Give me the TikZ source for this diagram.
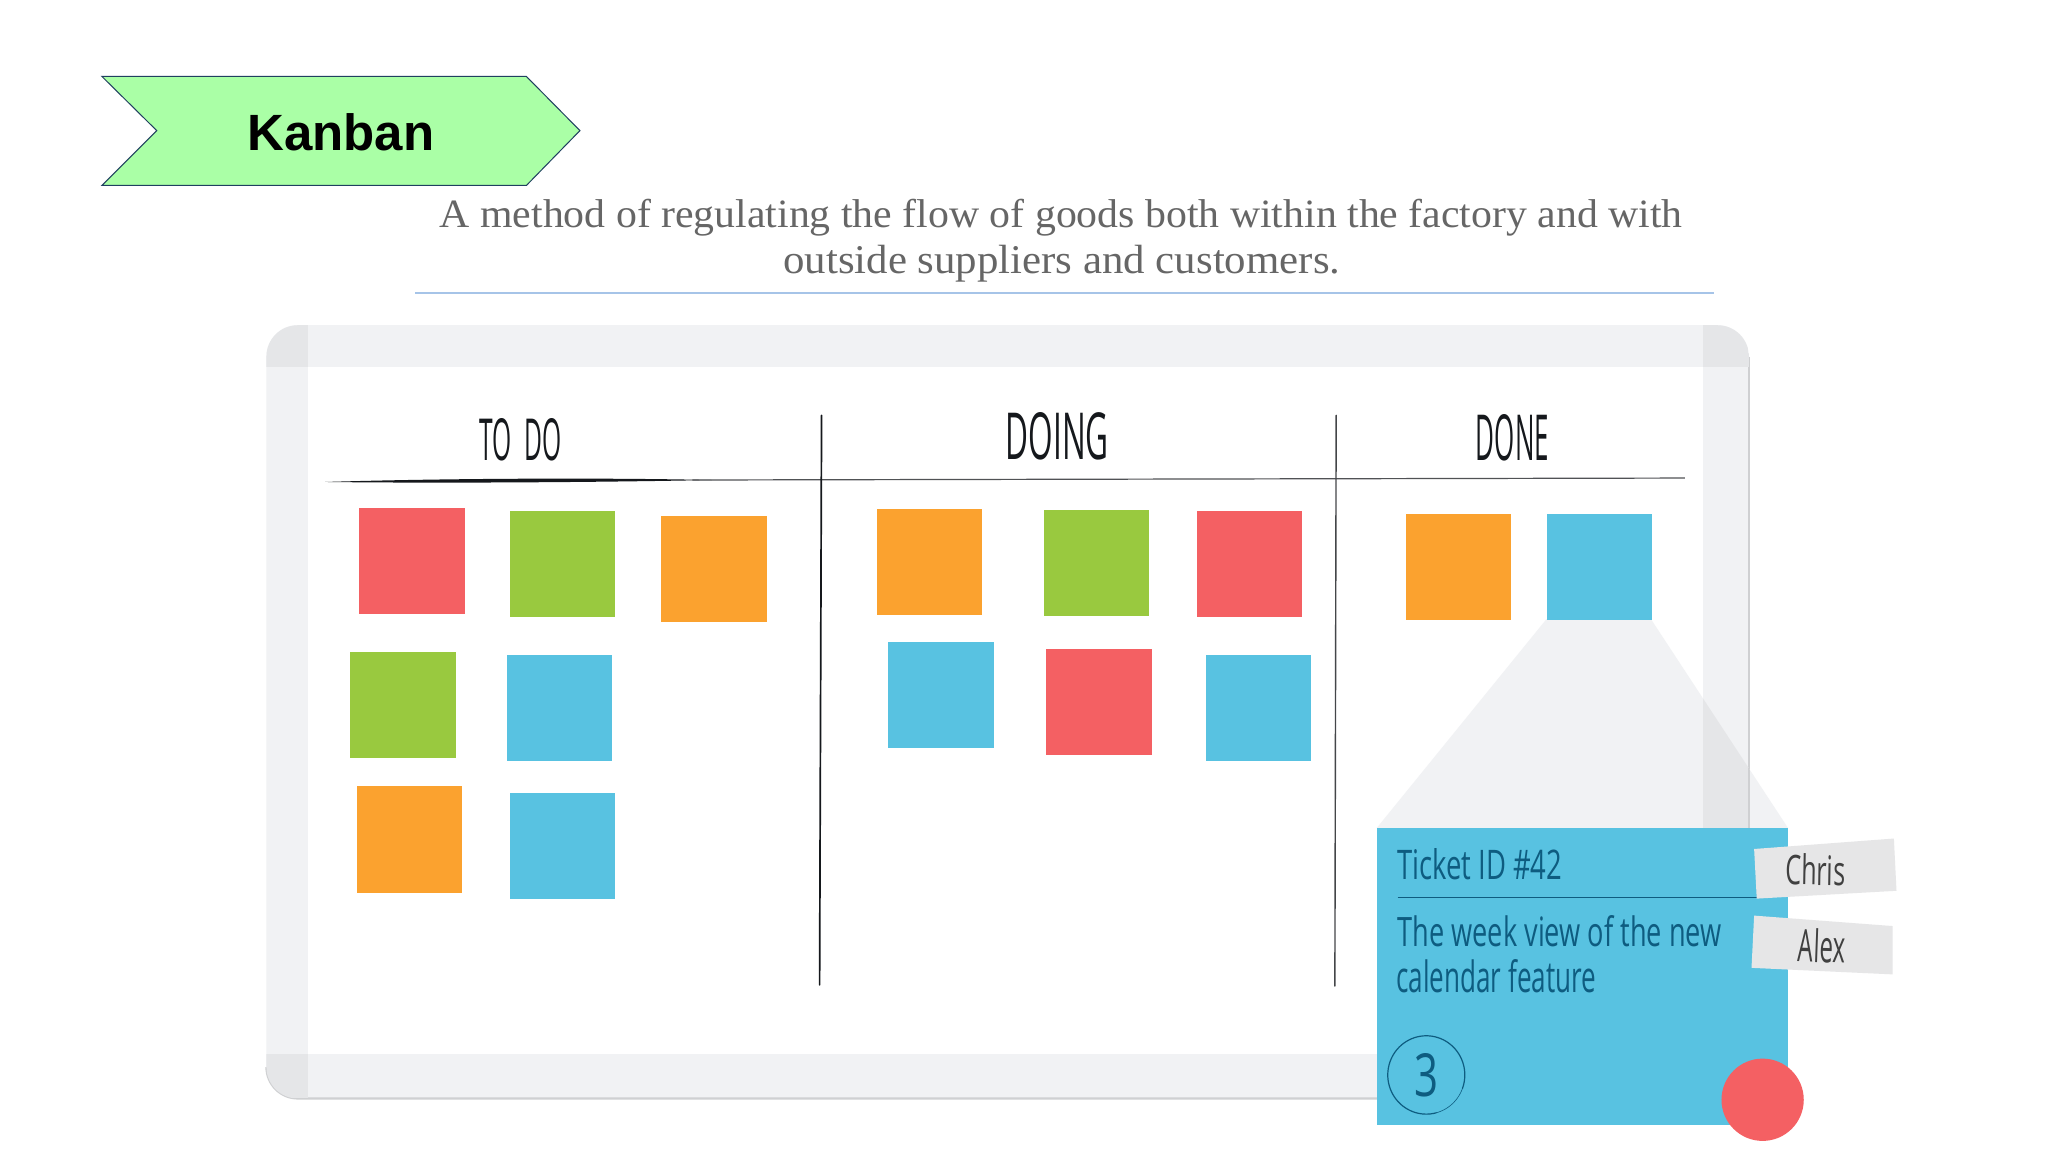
\documentclass[tikz,border=0pt]{standalone}
\usepackage{graphicx}
\usepackage{fontspec}
\setmainfont{Liberation Sans}
\newfontfamily\serifpart{Liberation Serif}
\newfontfamily\handfont{Open Sans}
\definecolor{sred}{HTML}{F46063}
\definecolor{sgreen}{HTML}{99C93F}
\definecolor{sorange}{HTML}{FBA22F}
\definecolor{sblue}{HTML}{58C2E1}
\definecolor{frame}{HTML}{F1F2F4}
\definecolor{framedark}{HTML}{E5E6E8}
\definecolor{frameedge}{HTML}{CFD0D2}
\definecolor{ink}{HTML}{15181C}
\definecolor{bluink}{HTML}{0E5C80}
\definecolor{tagfill}{HTML}{E6E6E7}
\definecolor{subtext}{HTML}{666666}
\definecolor{bannerfill}{HTML}{AAFFA6}
\definecolor{bannerline}{HTML}{1F3F5F}
\definecolor{rulecol}{HTML}{A6C4E8}
\newcommand{\hand}[3]{\resizebox{#1pt}{#2pt}{\handfont #3}}
\newcommand{\subline}[2]{\resizebox*{#1pt}{37pt}{\serifpart\fontsize{38pt}{46pt}\selectfont #2}}
\tikzset{
  sticky/.style={rectangle,fill=#1,anchor=north west,inner sep=0pt,minimum width=105.5pt,minimum height=106pt},
  plain/.style={inner sep=0pt,outer sep=0pt},
  divider/.style={draw=ink,line width=1.7pt,line cap=round},
  handtext/.style={inner sep=0pt,outer sep=0pt,anchor=center}
}
\begin{document}
\begin{tikzpicture}[x=1.30612pt,y=-1.30612pt]
\useasboundingbox (0,0) rectangle (1568,882);
\fill[white] (0,0) rectangle (1568,882);
% banner
\draw[fill=bannerfill,draw=bannerline,line width=1pt,line join=miter]
  (78,58.5) -- (403,58.5) -- (444,100) -- (403,142) -- (78,142) -- (120,100) -- cycle;
\node[plain,font=\bfseries\fontsize{51pt}{55pt}\selectfont] (title) at (261,101.5) {Kanban};
% subtitle
\node[plain,text=subtext] (sub1) at (812.5,166.5) {\subline{1243}{A method of regulating the flow of goods both within the factory and with}};
\node[plain,text=subtext] (sub2) at (813,202) {\subline{557}{outside suppliers and customers.}};
\coordinate (ruleL) at (318,224.3);
\coordinate (ruleR) at (1312,224.3);
\draw[rulecol,line width=1.2pt] (ruleL) -- (ruleR);
% board
\fill[frame] (204,273) arc[start angle=180,end angle=270,radius=24] -- (1315,249) arc[start angle=270,end angle=360,radius=24] -- (1339,817) arc[start angle=0,end angle=90,radius=24] -- (228,841) arc[start angle=90,end angle=180,radius=24] -- cycle;
\draw[frameedge,line width=1.6pt] (1339,273) -- (1339,817);
\draw[frameedge,line width=2.2pt] (1339,817) arc[start angle=0,end angle=90,radius=24] -- (228,841) arc[start angle=90,end angle=180,radius=24];
\fill[white] (236,281) rectangle (1304,807);
% darker corners
\begin{scope}
\clip (204,273) arc[start angle=180,end angle=270,radius=24] -- (1315,249) arc[start angle=270,end angle=360,radius=24] -- (1339,817) arc[start angle=0,end angle=90,radius=24] -- (228,841) arc[start angle=90,end angle=180,radius=24] -- cycle;
\fill[framedark] (204,249) rectangle (236,281);
\fill[framedark] (1304,249) rectangle (1339,281);
\fill[framedark] (204,807) rectangle (236,841);
\end{scope}
% funnel
\fill[frame] (1184,474) -- (1264,474) -- (1369,634) -- (1054,634) -- cycle;
\begin{scope}
\clip (1184,474) -- (1264,474) -- (1369,634) -- (1054,634) -- cycle;
\fill[framedark] (1304,474) rectangle (1339,634);
\draw[frameedge,line width=1.6pt] (1339,474) -- (1339,634);
\end{scope}
% headers
\node[handtext,text=ink] (todo) at (398.5,337) {\hand{82}{42}{TO\ \ DO}};
\node[handtext,text=ink] (doing) at (809.5,334) {\hand{103}{47}{DOING}};
\node[handtext,text=ink] (done) at (1158,335) {\hand{73}{46}{DONE}};
% rules
\coordinate (hL) at (249,369);
\coordinate (hR) at (1290,366);
\fill[ink] (hL) .. controls (330,366.5) and (450,365.5) .. (545,367.5) .. controls (450,369.4) and (330,370) .. (hL) -- cycle;
\draw[ink!75,line width=1.2pt] (530,367.5) -- (hR);
\coordinate (v1t) at (629,318);
\coordinate (v1b) at (627.5,754);
\coordinate (v2t) at (1023,318);
\coordinate (v2b) at (1022,755);
\draw[divider] (v1t) -- (v1b);
\draw[ink!80,line width=1.4pt,line cap=round] (v2t) -- (v2b);
% stickies
\node[sticky=sred] (a1) at (275,389) {};
\node[sticky=sgreen] (a2) at (390,391) {};
\node[sticky=sorange] (a3) at (506,395) {};
\node[sticky=sgreen] (a4) at (268,499) {};
\node[sticky=sblue] (a5) at (388,501) {};
\node[sticky=sorange] (a6) at (273,602) {};
\node[sticky=sblue] (a7) at (390,607) {};
\node[sticky=sorange] (b1) at (671,389.5) {};
\node[sticky=sgreen] (b2) at (799,390) {};
\node[sticky=sred] (b3) at (916,391) {};
\node[sticky=sblue] (b4) at (680,491.5) {};
\node[sticky=sred] (b5) at (801,497) {};
\node[sticky=sblue] (b6) at (923,501) {};
\node[sticky=sorange] (c1) at (1076,393) {};
\node[sticky=sblue] (c2) at (1184,393) {};
% card
\fill[sblue] (1054,634) rectangle (1369,861);
\node[handtext,text=bluink] (tid) at (1133,662) {\hand{165}{31}{Ticket ID \#42}};
\coordinate (cl) at (1070,687);
\coordinate (cr) at (1345,687);
\draw[bluink,line width=1.4pt] (cl) -- (cr);
\node[handtext,text=bluink] (l1) at (1194,713) {\hand{324}{31}{The week view of the new}};
\node[handtext,text=bluink] (l2) at (1145.5,747.5) {\hand{200}{33}{calendar feature}};
% tags
\fill[tagfill] (1343,650) -- (1450,642) -- (1452,682) -- (1345,688) -- cycle;
\fill[tagfill] (1343,701) -- (1449,709) -- (1449,746) -- (1341,741) -- cycle;
\node[handtext,text=black!75,rotate=-1] (chris) at (1390,666) {\hand{60}{31}{Chris}};
\node[handtext,text=black!75,rotate=-2] (alex) at (1395,724) {\hand{47}{34}{Alex}};
% estimate
\coordinate (cc) at (1092,823);
\draw[bluink,line width=1.2pt,line cap=round] plot[smooth,domain=75:380,samples=70] ({1092+29.5*cos(\x)},{823+30*sin(\x)});
\draw[bluink,line width=.6pt,line cap=round] plot[smooth,domain=20:75,samples=15] ({1092+29.5*cos(\x)},{823+30*sin(\x)});
\node[handtext,text=bluink] (est) at (1092.5,823.5) {\hand{24}{43}{3}};
\fill[sred] (1349.5,842) circle[radius=31.5];
\end{tikzpicture}
\end{document}
